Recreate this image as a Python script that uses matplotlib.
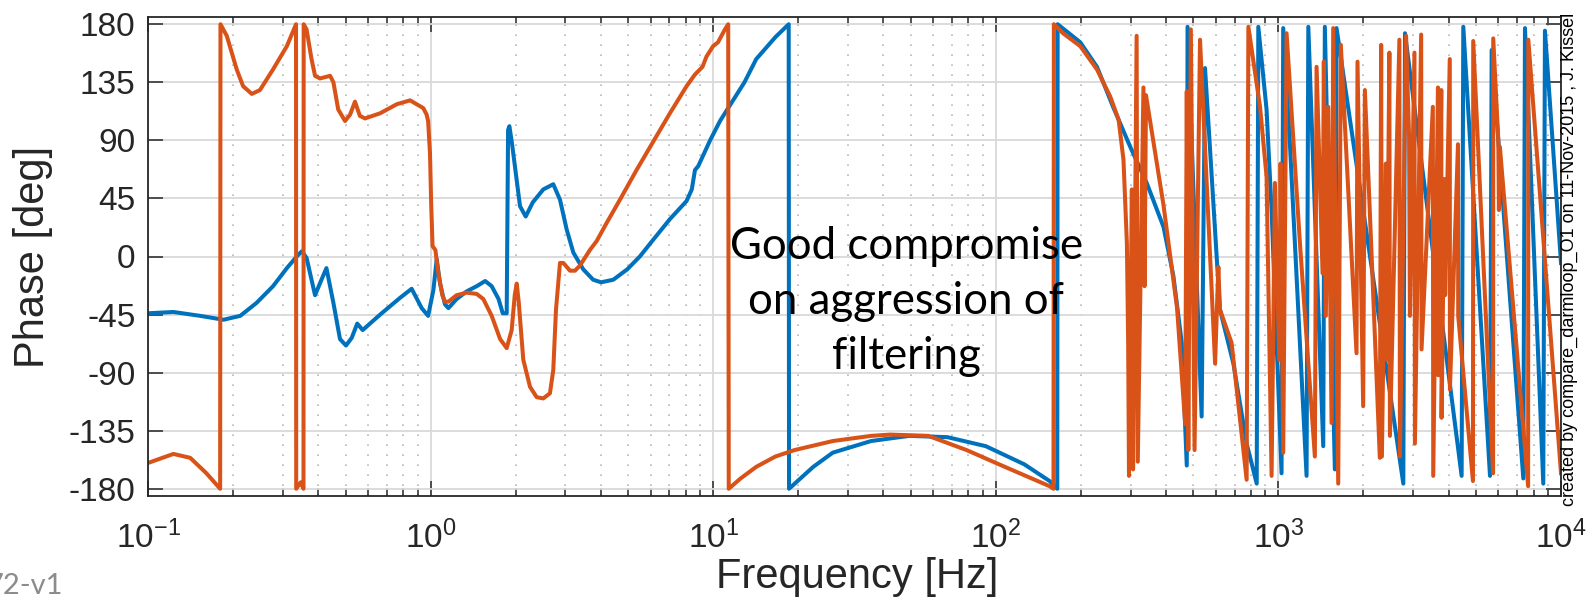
import matplotlib
matplotlib.use('Agg')
import matplotlib.pyplot as plt
from matplotlib.ticker import FixedLocator, LogLocator, NullFormatter

# ---- dados (frequencia em Hz, fase em graus) ----
blue_freq = [0.100, 0.123, 0.153, 0.185, 0.212, 0.242, 0.277, 0.310, 0.336, 0.350,
             0.364, 0.390, 0.411, 0.428, 0.453, 0.478, 0.502, 0.526, 0.550, 0.575,
             0.663, 0.780, 0.857, 0.930, 0.980, 1.023, 1.051, 1.080, 1.124, 1.156,
             1.236, 1.342, 1.456, 1.560, 1.645, 1.740, 1.800, 1.859, 1.880, 1.900,
             1.940, 2.072, 2.170, 2.300, 2.505, 2.717, 2.870, 3.030, 3.200, 3.470,
             3.760, 4.010, 4.430, 4.960, 5.500, 6.135, 7.030, 8.050, 8.400, 8.620,
             8.850, 9.750, 10.57, 12.9, 14.2, 16.6, 18.5, 18.55, 22.6, 26.5,
             36.2, 49.4, 67.4, 92.2, 126, 155, 165, 165.5, 199, 228,
             260, 299, 342, 392, 425, 455, 474, 477, 535, 550,
             621, 693, 772, 838, 849, 908, 946, 1026, 1040, 1098,
             1258, 1276, 1441, 1460, 1584, 1606, 2767, 2805, 4450, 4511,
             5607, 5684, 7356, 7457, 8655, 8774, 10000]
blue_phase = [-44, -43, -46, -49, -46, -36, -23, -9, 0, 4,
              -1, -30, -18, -9, -36, -64, -69, -63, -52, -57,
              -45, -32, -25, -40, -46, -26, -2, -21, -37, -40,
              -33, -27, -23, -19, -23, -33, -44, -44, 98, 101,
              88, 39, 31, 42, 52, 56, 44, 21, 3, -10,
              -18, -20, -18, -10, 0, 13, 29, 43, 52, 67,
              70, 90, 105, 135, 153, 170, 180, -180, -163, -152,
              -143, -139, -140, -147, -161, -174, -180, 180, 166, 147,
              116, 85, 57, 23, -15, -67, -162, 178, -124, 146,
              -41, -83, -145, -176, 178, 114, 36, -168, 177, 88,
              -170, 178, -147, 178, -165, 177, -176, 173, -170, 178,
              -170, 160, -172, 177, -176, 175, -5]

orange_freq = [0.100, 0.123, 0.141, 0.161, 0.180, 0.1805, 0.190, 0.206, 0.217, 0.233,
               0.249, 0.277, 0.310, 0.334, 0.3345, 0.347, 0.355, 0.3555, 0.364, 0.379,
               0.390, 0.406, 0.441, 0.453, 0.471, 0.498, 0.519, 0.540, 0.562, 0.586,
               0.663, 0.759, 0.846, 0.892, 0.942, 0.968, 0.980, 0.995, 1.005, 1.016,
               1.040, 1.060, 1.100, 1.124, 1.156, 1.236, 1.342, 1.456, 1.537, 1.645,
               1.762, 1.859, 1.936, 1.985, 2.017, 2.050, 2.128, 2.248, 2.373, 2.505,
               2.644, 2.717, 2.778, 2.870, 2.949, 3.113, 3.243, 3.377, 3.661, 3.870,
               4.197, 4.677, 5.355, 6.135, 7.027, 8.050, 8.616, 9.166, 9.470, 9.990,
               10.4, 11.0, 11.3, 11.35, 12.5, 14.2, 16.6, 19.4, 26.5, 36.2,
               42.3, 57.7, 78.8, 107.6, 155, 160, 160.5, 173, 199, 228,
               254, 272, 283, 291, 294, 296, 303, 306, 315, 318,
               333, 336, 340, 392, 438, 468, 474, 480, 490, 505,
               528, 597, 613, 621, 683, 772, 783, 861, 908, 946,
               972, 1007, 1018, 1040, 1069, 1192, 1346, 1365, 1433, 1448,
               1472, 1501, 1542, 1563, 1628, 1663, 1890, 1905, 1995, 2023,
               2285, 2310, 2324, 2400, 2415, 2470, 2481, 2680, 2692, 2830,
               2900, 2920, 3030, 3041, 3200, 3210, 3520, 3531, 3670, 3678,
               3770, 3779, 3870, 3890, 4040, 4045, 4320, 4328, 4880, 4891,
               5750, 5757, 6000, 6030, 6077, 7650, 7662, 10000]
orange_phase = [-160, -153, -156, -168, -180, 180, 171, 145, 132, 126,
                129, 145, 163, 180, -180, -175, -180, 180, 176, 153,
                140, 138, 140, 135, 114, 105, 110, 120, 109, 107,
                111, 118, 121, 118, 115, 110, 105, 80, 40, 8,
                5, -10, -30, -35, -35, -30, -28, -29, -33, -46,
                -64, -71, -57, -30, -21, -35, -80, -101, -109, -110,
                -106, -88, -41, -5, -5, -11, -11, -7, 5, 12,
                26, 44, 67, 89, 111, 132, 141, 147, 155, 163,
                166, 176, 180, -180, -172, -163, -155, -150, -143, -139,
                -138, -139, -150, -163, -178, -180, 180, 173, 163, 145,
                124, 106, 75, 10, -67, -170, 52, -165, 171, -159,
                131, -23, 125, 40, -40, -130, 128, -150, 176, -150,
                168, -83, -8, -41, -67, -173, 178, 116, 62, -170,
                57, -80, 72, -152, 173, 10, -155, 147, -13, 151,
                -46, 116, -129, 177, -176, 164, -75, 151, -116, 129,
                -156, 164, -155, 72, -80, 158, -139, 168, -155, 171,
                93, -46, 158, -145, 172, -72, 116, -170, 131, -92,
                129, -125, 60, -30, 153, -103, 87, -46, -174, 167,
                -168, 169, 90, 36, 85, -178, 168, -168]

y_ticks = [-180, -135, -90, -45, 0, 45, 90, 135, 180]
note_lines = ["Good compromise", "on aggression of", "filtering"]
stamp = "created by compare_darmloop_O1 on 11-Nov-2015 , J. Kissel"

plt.rcParams['font.family'] = ['Liberation Sans', 'DejaVu Sans']
plt.rcParams['mathtext.fontset'] = 'custom'
plt.rcParams['mathtext.rm'] = 'Liberation Sans'

W, H = 1593, 597
fig = plt.figure(figsize=(W / 100, H / 100), dpi=100)
ax = fig.add_axes([148 / W, 101 / H, 1413 / W, 479 / H])

ax.semilogx(blue_freq, blue_phase, color='#0072BD', linewidth=2.9)
ax.semilogx(orange_freq, orange_phase, color='#D95319', linewidth=2.9)

ax.set_xlim(0.1, 1e4)
ax.set_ylim(-185.6, 185.6)
ax.yaxis.set_major_locator(FixedLocator(y_ticks))
ax.set_yticklabels([str(v) for v in y_ticks])
ax.xaxis.set_major_locator(LogLocator(base=10, numticks=20))
ax.xaxis.set_minor_locator(LogLocator(base=10, subs=range(2, 10), numticks=20))
ax.xaxis.set_minor_formatter(NullFormatter())

dark = '#262626'
ax.tick_params(which='both', direction='in', top=True, right=True, color=dark,
               labelcolor=dark, labelsize=24, width=1.1)
ax.tick_params(which='major', length=11)
ax.tick_params(which='minor', length=5.5)
ax.tick_params(axis='x', pad=18)
ax.tick_params(axis='y', pad=9)
for s in ax.spines.values():
    s.set_color(dark)
    s.set_linewidth(1.3)

ax.set_axisbelow(True)
ax.grid(which='major', color='#d9d9d9', linewidth=1.3, linestyle='-')
ax.grid(which='minor', axis='x', color='#b8b8b8', linewidth=1.2, linestyle=(0, (1, 5)))

fig.text(33 / W, 1 - 257 / H, "Phase [deg]", rotation=90, ha='center', va='center',
         fontsize=30, color=dark)
fig.text(857 / W, 1 - 588 / H, "Frequency [Hz]", ha='center', va='baseline',
         fontsize=30, color=dark)

# texto do slide por cima do grafico
for i, line in enumerate(note_lines):
    fig.text(906 / W, 1 - (259 + 55 * i) / H, line, ha='center', va='baseline',
             fontsize=31.5, family='Lato', color='black', zorder=10)

fig.text(1569 / W, 1 - 259 / H, stamp, rotation=90, ha='center', va='center',
         fontsize=13, color='black')
fig.text(63 / W, 3 / H, "72-v1", ha='right', va='baseline', fontsize=21,
         family='Lato', color='#8c8c8c')

fig.savefig('out.png', dpi=100)
